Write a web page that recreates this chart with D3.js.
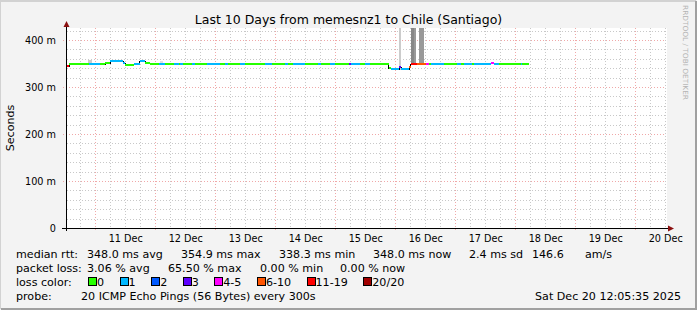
<!DOCTYPE html>
<html><head><meta charset="utf-8">
<script src="https://cdn.jsdelivr.net/npm/d3@7"></script>
<style>
body{margin:0;background:#f3f3f3}
svg{display:block}
text{font-family:"DejaVu Sans",sans-serif;fill:#000}
</style>
</head><body><svg id="c" width="697" height="310"></svg>
<script>
// ---------------- data ----------------
const title = "Last 10 Days from memesnz1 to Chile (Santiago)";
const yAxisTitle = "Seconds";
const startTime = new Date(2025, 11, 10, 12, 5, 35);
const endTime = new Date(2025, 11, 20, 12, 5, 35);
const yMax = 425.5;
const yTickValues = [0, 100, 200, 300, 400];
const yTickLabels = ["0", "100 m", "200 m", "300 m", "400 m"];
const xTickDays = [11, 12, 13, 14, 15, 16, 17, 18, 19, 20];
const xTickLabels = ["11 Dec","12 Dec","13 Dec","14 Dec","15 Dec","16 Dec","17 Dec","18 Dec","19 Dec","20 Dec"];

// median rtt (ms) per run, hours after startTime, lost pings out of 20
const segStartH = [0.0,1.2,9.1,13.7,15.6,17.6,22.8,23.7,27.1,29.4,31.6,33.6,37.1,39.7,43.1,45.1,45.6,46.9,50.3,51.6,
  56.3,61.6,63.6,64.8,69.6,71.6,79.6,82.3,87.6,88.9,90.9,95.5,100.8,102.1,105.5,107.5,113.2,113.9,117.5,119.5,
  121.5,129.0,130.0,133.2,134.0,137.2,137.9,140.5,143.9,145.2,146.1,151.2,156.5,157.9,159.2,162.5,163.2,169.9,171.2,173.2,
  181.9,182.5];
const segMedian = [344,348,348,348,351,355,352,347,348,355,351,348,348,348,348,348,348,348,348,348,
  348,348,348,348,348,348,348,348,350,348,348,348,348,348,348,348,348,348,348,348,
  348,340,338,342,338,343,348,348,348,348,348,348,348,348,348,348,348,351,348,348,
  348,348];
const segLoss = [12,0,1,0,0,1,1,0,1,1,0,0,1,0,1,0,1,0,1,0,
  1,0,1,0,1,0,1,0,1,0,1,0,1,0,1,0,3,1,0,1,
  0,0,1,3,1,8,13,7,4,0,1,0,1,0,1,0,1,4,1,0,
  1,0];
const dataEndH = 185.2;

// smoke (spread of individual pings)
const smokeStartH = [2.0,8.9,37.6,68.4,79.6,121.6,152.4,133.2,137.9,139.0,141.2];
const smokeEndH   = [5.6,10.3,38.8,70.4,82.4,122.4,153.6,134.0,139.0,140.0,143.2];
const smokeLo     = [348,348,348,348,348,348,348,338,348,348,348];
const smokeHi     = [353,359,357,352,352,352,353,440,440,440,440];
const smokeDensity= [0.12,0.2,0.12,0.12,0.12,0.12,0.12,0.2,0.47,0.4,0.4];

const lossLabels = ["0","1","2","3","4-5","6-10","11-19","20/20"];
const lossColors = ["#26ff00","#00b8ff","#0059ff","#5e00ff","#ff00ff","#ff5500","#ff0000","#a10000"];
const lossThresholds = [1,2,3,4,6,11,20];

const rttLabel = "median rtt:";
const rttStats = ["348.0 ms avg","354.9 ms max","338.3 ms min","348.0 ms now","2.4 ms sd","146.6","am/s"];
const lossLabel = "packet loss:";
const lossStats = ["3.06 % avg","65.50 % max","0.00 % min","0.00 % now"];
const lossColorLabel = "loss color:";
const probeLabel = "probe:";
const probeText = "20 ICMP Echo Pings (56 Bytes) every 300s";
const stampText = "Sat Dec 20 12:05:35 2025";
const watermark = "RRDTOOL / TOBI OETIKER";

// ---------------- drawing ----------------
const W = 697, H = 310;
const L = 66, R = 666, T = 28, B = 228;
const svg = d3.select("#c");
const HOUR = 3600e3;
const tAt = h => new Date(startTime.getTime() + h * HOUR);

const x = d3.scaleTime().domain([startTime, endTime]).range([L, R]);
const y = d3.scaleLinear().domain([0, yMax]).range([B + 0.5, B + 0.5 - yMax * 0.47]);
const lossColor = d3.scaleThreshold().domain(lossThresholds).range(lossColors);
const shade = d3.interpolateRgb("#ffffff", "#000000");
const px = v => Math.floor(v) + 0.5;

// background + frame
svg.append("rect").attr("width", W).attr("height", H).attr("fill", "#f3f3f3");
svg.append("path").attr("d", `M0,${H-1}V1H${W-1}`).attr("fill","none").attr("stroke","#d2d2d2").attr("stroke-width",2);
svg.append("path").attr("d", `M1,${H-1}H${W-1}V1`).attr("fill","none").attr("stroke","#a0a0a0").attr("stroke-width",2);
svg.append("rect").attr("x", L + 1).attr("y", T).attr("width", R - L).attr("height", B - T).attr("fill", "#fff");

// grid
const grid = svg.append("g").attr("shape-rendering", "crispEdges");
const minorY = d3.range(0, yMax, 20).filter(v => v % 100 !== 0);
grid.selectAll(".gy").data(minorY).join("line")
  .attr("x1", L + 1).attr("x2", R).attr("y1", d => px(y(d))).attr("y2", d => px(y(d)))
  .attr("stroke", "#c8c8c8").attr("stroke-dasharray", "1,2");
const minorX = d3.timeHour.every(6).range(startTime, endTime).filter(d => d.getHours() !== 0);
grid.selectAll(".gx").data(minorX).join("line")
  .attr("y1", T).attr("y2", B).attr("x1", d => px(x(d))).attr("x2", d => px(x(d)))
  .attr("stroke", "#c8c8c8").attr("stroke-dasharray", "1,2");
grid.selectAll(".my").data(yTickValues.filter(v => v > 0)).join("line")
  .attr("x1", L - 3).attr("x2", R).attr("y1", d => px(y(d))).attr("y2", d => px(y(d)))
  .attr("stroke", "#f0a8a8").attr("stroke-dasharray", "1,2");
const majorX = d3.timeDay.range(startTime, endTime);
grid.selectAll(".mx").data(majorX).join("line")
  .attr("y1", T).attr("y2", B + 2).attr("x1", d => px(x(d))).attr("x2", d => px(x(d)))
  .attr("stroke", "#f0a8a8").attr("stroke-dasharray", "1,2");

// plot clip
svg.append("defs").append("clipPath").attr("id", "pc")
  .append("rect").attr("x", L + 1).attr("y", T).attr("width", R - L).attr("height", B - T);
const plot = svg.append("g").attr("clip-path", "url(#pc)").attr("shape-rendering", "crispEdges");

// smoke
const smoke = smokeStartH.map((s, i) => ({s, e: smokeEndH[i], lo: smokeLo[i], hi: smokeHi[i], d: smokeDensity[i]}));
plot.selectAll(".sm").data(smoke).join("rect")
  .attr("x", d => x(tAt(d.s))).attr("width", d => x(tAt(d.e)) - x(tAt(d.s)))
  .attr("y", d => y(d.hi)).attr("height", d => y(d.lo) - y(d.hi))
  .attr("fill", d => shade(d.d));

// median
const segs = segStartH.map((s, i) => ({s, e: i + 1 < segStartH.length ? segStartH[i + 1] : dataEndH, m: segMedian[i], l: segLoss[i]}));
let dStep = "";
segs.forEach((d, i) => {
  const x0 = x(tAt(d.s)), x1 = x(tAt(d.e)), yy = px(y(d.m));
  dStep += (i === 0 ? `M${x0},${yy}` : `V${yy}`) + `H${x1}`;
});
plot.append("path").attr("d", dStep).attr("fill", "none").attr("stroke", "#000").attr("stroke-width", 1);
plot.selectAll(".md").data(segs).join("rect")
  .attr("x", d => x(tAt(d.s))).attr("width", d => x(tAt(d.e)) - x(tAt(d.s)))
  .attr("y", d => Math.floor(y(d.m)) - 1).attr("height", 2)
  .attr("fill", d => lossColor(d.l));

// axes
const ax = svg.append("g").attr("shape-rendering", "crispEdges");
ax.append("line").attr("x1", L - 4).attr("x2", R + 2).attr("y1", B + 0.5).attr("y2", B + 0.5).attr("stroke", "#000");
ax.append("line").attr("x1", L + 0.5).attr("x2", L + 0.5).attr("y1", T - 4).attr("y2", B + 3).attr("stroke", "#000");
svg.append("path").attr("d", `M${L + 0.5},${T - 7}L${L - 2.5},${T - 1}L${L + 3.5},${T - 1}Z`).attr("fill", "#8b1010");
svg.append("path").attr("d", `M${R + 8},${B + 0.5}L${R + 2},${B - 2.5}L${R + 2},${B + 3.5}Z`).attr("fill", "#8b1010");

// y tick labels
svg.selectAll(".yl").data(yTickValues).join("text")
  .attr("x", 56).attr("y", d => px(y(d)) + 3.5).attr("text-anchor", "end")
  .attr("font-size", 9.7).text((d, i) => yTickLabels[i]);

// x tick labels at noon
svg.selectAll(".xl").data(xTickDays).join("text")
  .attr("x", d => x(new Date(2025, 11, d, 12))).attr("y", 241.5).attr("text-anchor", "middle")
  .attr("font-size", 9.7).text((d, i) => xTickLabels[i]);

// titles
svg.append("text").attr("x", 348.5).attr("y", 24).attr("text-anchor", "middle").attr("font-size", 12.5).text(title);
svg.append("text").attr("transform", "translate(14,128) rotate(-90)").attr("text-anchor", "middle")
  .attr("font-size", 11.1).text(yAxisTitle);
svg.append("text").attr("transform", "translate(683,5) rotate(90)").attr("font-size", 7)
  .attr("textLength", 95).attr("lengthAdjust", "spacingAndGlyphs")
  .style("fill", "#b4b4b4").text(watermark);

// legend
const fs = 11.1;
const lg = svg.append("g").attr("font-size", fs);
const rttX = [87, 181, 279, 373, 469, 532, 585];
lg.append("text").attr("x", 16).attr("y", 258).text(rttLabel);
lg.selectAll(".r").data(rttStats).join("text").attr("x", (d, i) => rttX[i]).attr("y", 258).text(d => d);
const lossX = [87, 168, 260, 340];
lg.append("text").attr("x", 16).attr("y", 272).text(lossLabel);
lg.selectAll(".p").data(lossStats).join("text").attr("x", (d, i) => lossX[i]).attr("y", 272).text(d => d);
lg.append("text").attr("x", 16).attr("y", 286).text(lossColorLabel);
let bx = 88;
lossLabels.forEach((lab, i) => {
  lg.append("rect").attr("x", bx + 0.5).attr("y", 277.5).attr("width", 8).attr("height", 8)
    .attr("fill", lossColors[i]).attr("stroke", "#000").attr("shape-rendering", "crispEdges");
  const t = lg.append("text").attr("x", bx + 9).attr("y", 286).text(lab);
  bx = bx + 9 + t.node().getComputedTextLength() + 15.5;
});
lg.append("text").attr("x", 16).attr("y", 300).text(probeLabel);
lg.append("text").attr("x", 81).attr("y", 300).text(probeText);
lg.append("text").attr("x", 681).attr("y", 300).attr("text-anchor", "end").text(stampText);
</script>
</body></html>
